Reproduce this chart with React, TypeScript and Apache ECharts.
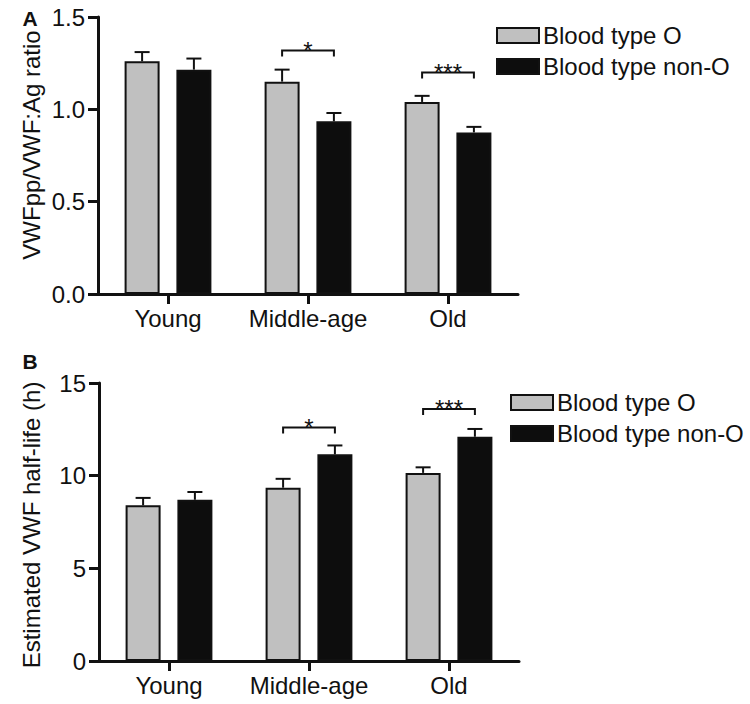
import React, { useEffect, useRef } from "react";
import * as echarts from "echarts";

const categories = ["Young", "Middle-age", "Old"];
const seriesNames = ["Blood type O", "Blood type non-O"];

// Panel A: VWFpp/VWF:Ag ratio
const ratioO = [1.26, 1.15, 1.04];
const ratioOErr = [0.05, 0.065, 0.033];
const ratioNonO = [1.215, 0.935, 0.875];
const ratioNonOErr = [0.06, 0.045, 0.03];
const ratioTicks = [0, 0.5, 1.0, 1.5];
const ratioBrackets = [
  { cat: 1, y: 1.318, label: "*" },
  { cat: 2, y: 1.199, label: "***" },
];

// Panel B: Estimated VWF half-life (h)
const halfO = [8.4, 9.35, 10.15];
const halfOErr = [0.4, 0.48, 0.3];
const halfNonO = [8.7, 11.15, 12.1];
const halfNonOErr = [0.42, 0.48, 0.42];
const halfTicks = [0, 5, 10, 15];
const halfBrackets = [
  { cat: 1, y: 12.6, label: "*" },
  { cat: 2, y: 13.6, label: "***" },
];

const FONT = "'Liberation Sans', Arial, Helvetica, sans-serif";
const INK = "#111111";
const GREY = "#c0c0c0";
const BLACK = "#0d0d0d";
const BAR_W = 0.25;
const BAR_GAP = 0.48;
const OFF = (BAR_W * (1 + BAR_GAP)) / 2;

function errSeries(vals: number[], errs: number[], side: number, gi: number) {
  return {
    type: "custom",
    name: "err" + gi + side,
    xAxisIndex: gi,
    yAxisIndex: gi,
    z: 5,
    silent: true,
    encode: { x: 0, y: 1 },
    data: vals.map((v, i) => [i, v, errs[i], side]),
    renderItem: (params: any, api: any) => {
      const c = api.value(0);
      const v = api.value(1);
      const e = api.value(2);
      const s = api.value(3);
      const band = api.size([1, 0])[0];
      const p0 = api.coord([c, v]);
      const p1 = api.coord([c, v + e]);
      const x = p0[0] + s * band * OFF;
      return {
        type: "group",
        children: [
          {
            type: "line",
            shape: { x1: x, y1: p0[1], x2: x, y2: p1[1] },
            style: { stroke: INK, lineWidth: 2 },
          },
          {
            type: "line",
            shape: { x1: x - 7.5, y1: p1[1], x2: x + 7.5, y2: p1[1] },
            style: { stroke: INK, lineWidth: 2 },
          },
        ],
      };
    },
  };
}

function bracketSeries(br: { cat: number; y: number; label: string }[], gi: number) {
  return {
    type: "custom",
    name: "br" + gi,
    xAxisIndex: gi,
    yAxisIndex: gi,
    z: 6,
    silent: true,
    encode: { x: 0, y: 1 },
    data: br.map((b) => [b.cat, b.y]),
    renderItem: (params: any, api: any) => {
      const p = api.coord([api.value(0), api.value(1)]);
      const band = api.size([1, 0])[0];
      const x1 = p[0] - band * OFF;
      const x2 = p[0] + band * OFF;
      const y = p[1];
      return {
        type: "group",
        children: [
          {
            type: "polyline",
            shape: { points: [[x1, y + 6], [x1, y], [x2, y], [x2, y + 6]] },
            style: { stroke: INK, lineWidth: 2, fill: "none" },
          },
          {
            type: "text",
            style: {
              text: br[params.dataIndex].label,
              x: p[0],
              y: y,
              align: "center",
              verticalAlign: "middle",
              fontSize: 24,
              fontFamily: FONT,
              fill: INK,
            },
          },
        ],
      };
    },
  };
}

function axes(gi: number, ticks: number[], decimals: number) {
  const xAxis = {
    type: "category",
    gridIndex: gi,
    data: categories,
    axisLine: { show: true, lineStyle: { color: INK, width: 3 } },
    axisTick: { show: true, inside: false, alignWithLabel: true, length: 10, lineStyle: { color: INK, width: 3 } },
    axisLabel: { interval: 0, hideOverlap: false, fontSize: 24, fontFamily: FONT, color: INK, margin: 12 },
  };
  const yAxis = {
    type: "value",
    gridIndex: gi,
    min: ticks[0],
    max: ticks[ticks.length - 1],
    interval: ticks[1] - ticks[0],
    splitLine: { show: false },
    axisLine: { show: true, lineStyle: { color: INK, width: 3 } },
    axisTick: { show: true, inside: false, length: 10, lineStyle: { color: INK, width: 3 } },
    axisLabel: {
      fontSize: 24,
      fontFamily: FONT,
      color: INK,
      margin: 13,
      formatter: (v: number) => v.toFixed(decimals),
    },
  };
  return { xAxis, yAxis };
}

function barSeries(name: string, vals: number[], color: string, gi: number) {
  return {
    type: "bar",
    name,
    xAxisIndex: gi,
    yAxisIndex: gi,
    data: vals,
    barWidth: BAR_W * 100 + "%",
    barGap: BAR_GAP * 100 + "%",
    itemStyle: { color, borderColor: INK, borderWidth: 2 },
    z: 2,
  };
}

function legend(left: number, top: number) {
  return {
    orient: "vertical",
    left,
    top,
    padding: 0,
    itemWidth: 42,
    itemHeight: 15,
    itemGap: 7,
    selectedMode: false,
    icon: "rect",
    textStyle: { fontSize: 24, fontFamily: FONT, color: INK, padding: [0, 0, 0, -1] },
    data: [
      { name: seriesNames[0], itemStyle: { color: GREY, borderColor: INK, borderWidth: 2 } },
      { name: seriesNames[1], itemStyle: { color: BLACK, borderColor: INK, borderWidth: 2 } },
    ],
  };
}

export default function App() {
  const ref = useRef<HTMLDivElement>(null);
  useEffect(() => {
    if (!ref.current) return;
    const chart = echarts.init(ref.current, null, { renderer: "svg" });
    const a = axes(0, ratioTicks, 1);
    const b = axes(1, halfTicks, 0);
    chart.setOption({
      animation: false,
      backgroundColor: "#ffffff",
      grid: [
        { left: 98, top: 17, width: 420, height: 277 },
        { left: 99, top: 383, width: 420, height: 278 },
      ],
      xAxis: [a.xAxis, b.xAxis],
      yAxis: [a.yAxis, b.yAxis],
      legend: [legend(496, 23.5), legend(510, 390.5)],
      graphic: [
        {
          type: "text",
          x: 30,
          y: 18,
          style: { text: "A", fontSize: 21, fontWeight: "bold", fontFamily: FONT, fill: INK, align: "center", verticalAlign: "middle" },
        },
        {
          type: "text",
          x: 30,
          y: 361,
          style: { text: "B", fontSize: 21, fontWeight: "bold", fontFamily: FONT, fill: INK, align: "center", verticalAlign: "middle" },
        },
        {
          type: "text",
          x: 31,
          y: 145,
          rotation: Math.PI / 2,
          style: { text: "VWFpp/VWF:Ag ratio", fontSize: 24, fontFamily: FONT, fill: INK, align: "center", verticalAlign: "middle" },
        },
        {
          type: "text",
          x: 31,
          y: 525,
          rotation: Math.PI / 2,
          style: { text: "Estimated VWF half-life (h)", fontSize: 24, fontFamily: FONT, fill: INK, align: "center", verticalAlign: "middle" },
        },
      ],
      series: [
        barSeries(seriesNames[0], ratioO, GREY, 0),
        barSeries(seriesNames[1], ratioNonO, BLACK, 0),
        errSeries(ratioO, ratioOErr, -1, 0),
        errSeries(ratioNonO, ratioNonOErr, 1, 0),
        bracketSeries(ratioBrackets, 0),
        barSeries(seriesNames[0], halfO, GREY, 1),
        barSeries(seriesNames[1], halfNonO, BLACK, 1),
        errSeries(halfO, halfOErr, -1, 1),
        errSeries(halfNonO, halfNonOErr, 1, 1),
        bracketSeries(halfBrackets, 1),
      ],
    });
    return () => chart.dispose();
  }, []);
  return (
    <div
      ref={ref}
      style={{ position: "fixed", left: 0, top: 0, width: 750, height: 704, background: "#fff" }}
    />
  );
}
